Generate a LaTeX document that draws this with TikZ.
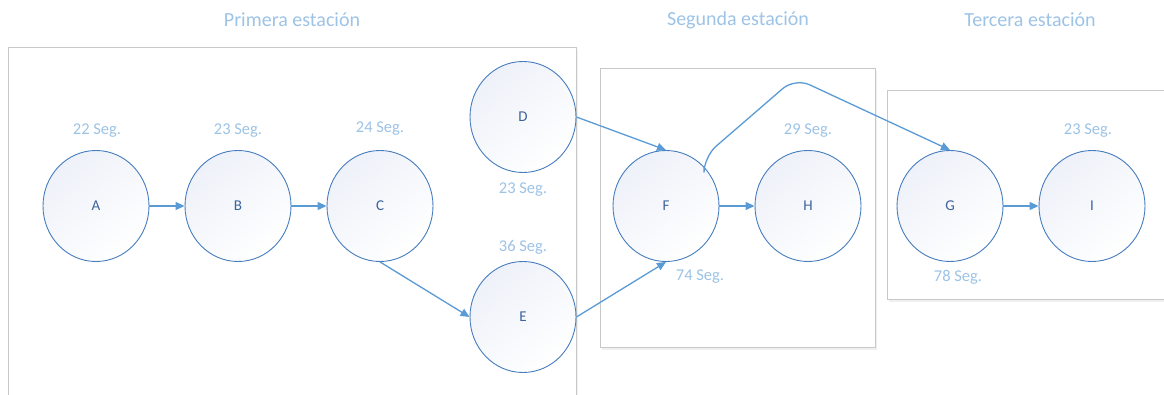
\documentclass[tikz,border=0pt]{standalone}
\usepackage{fontspec}
\setmainfont{Carlito}
\usepackage{tikz}
\usetikzlibrary{arrows.meta,shapes.geometric,shadows}
\definecolor{flowcol}{RGB}{91,155,213}
\definecolor{rimcol}{RGB}{70,125,190}
\definecolor{lettercol}{RGB}{60,100,155}
\definecolor{timecol}{RGB}{157,195,230}
\definecolor{boxcol}{RGB}{200,200,200}
\definecolor{shadecol}{RGB}{238,241,249}

\begin{document}
\begin{tikzpicture}[x=1pt,y=-1pt,>={Triangle[length=9pt,width=8pt]},
  task/.style={ellipse,draw=rimcol,line width=0.9pt,minimum width=106pt,minimum height=111pt,
    top color=shadecol,bottom color=white,shading angle=40,
    text=lettercol,font=\fontsize{15}{17}\selectfont},
  time/.style={text=timecol,font=\fontsize{16.5}{19}\selectfont},
  station/.style={text=timecol,font=\fontsize{20}{23}\selectfont},
  stationbox/.style={draw=boxcol,line width=0.9pt,fill=white,
    drop shadow={opacity=0.12,shadow xshift=2pt,shadow yshift=-3pt}},
  flow/.style={draw=flowcol,line width=1.3pt,->}]
  \useasboundingbox (0,0) rectangle (1164,395);
  % stations
  \node[station] (t1) at (292,20) {Primera estación};
  \node[station] (t2) at (738,20) {Segunda estación};
  \node[station] (t3) at (1030,20) {Tercera estación};
  \path[stationbox] (8,47) rectangle (576,420);
  \path[stationbox] (600,68) rectangle (875,347);
  \path[stationbox] (887,90) rectangle (1180,299);
  % tasks
  \node[task] (A) at (96,206) {A};
  \node[task] (B) at (238,206) {B};
  \node[task] (C) at (380,206) {C};
  \node[task] (D) at (523,117) {D};
  \node[task] (E) at (523,317) {E};
  \node[task] (F) at (666,206) {F};
  \node[task] (H) at (808,206) {H};
  \node[task] (G) at (950,206) {G};
  \node[task] (I) at (1092,206) {I};
  % times
  \node[time] (tA) at (97,131) {22 Seg.};
  \node[time] (tB) at (238,131) {23 Seg.};
  \node[time] (tC) at (380,129) {24 Seg.};
  \node[time] (tD) at (523,190) {23 Seg.};
  \node[time] (tE) at (523,247) {36 Seg.};
  \node[time] (tF) at (700,277) {74 Seg.};
  \node[time] (tH) at (808,131) {29 Seg.};
  \node[time] (tG) at (958,277) {78 Seg.};
  \node[time] (tI) at (1088,131) {23 Seg.};
  % flows
  \draw[flow] (A) -- (B);
  \draw[flow] (B) -- (C);
  \draw[flow] (C.south) -- (E.west);
  \draw[flow] (D.east) -- (F.north);
  \draw[flow] (E.east) -- (F.south);
  \draw[flow] (F) -- (H);
  \draw[flow] (G) -- (I);
  \coordinate (peak) at (795,78);
  \draw[flow,rounded corners=16pt] (F.46) -- ++(0,-10) -- (peak) -- (G.north);
\end{tikzpicture}
\end{document}
